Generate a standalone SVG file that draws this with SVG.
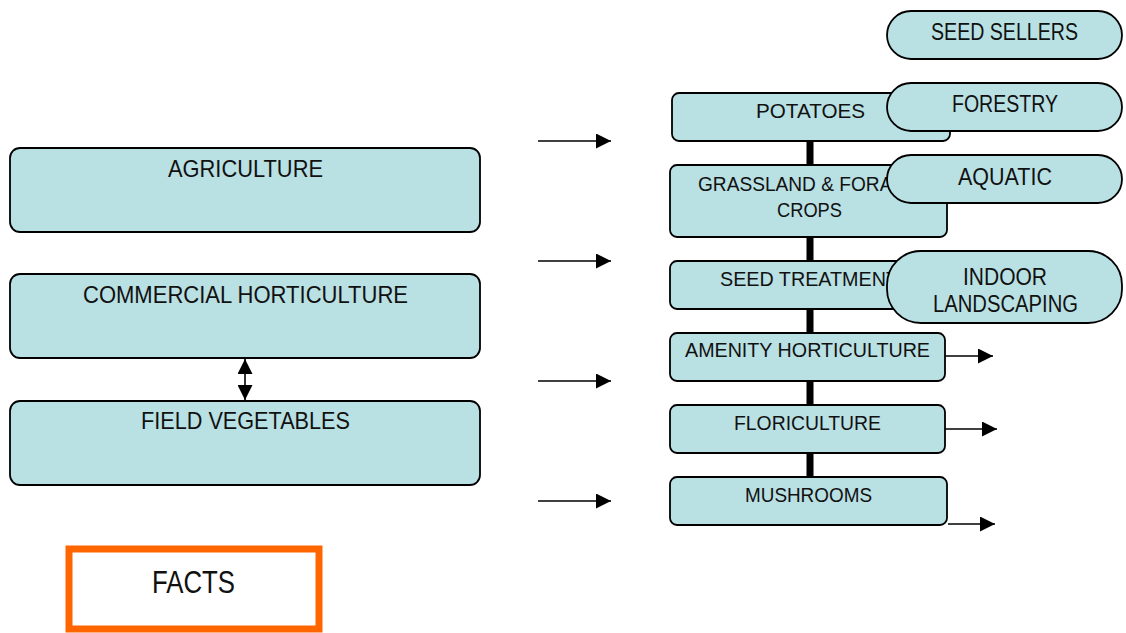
<svg xmlns="http://www.w3.org/2000/svg" width="1126" height="633" viewBox="0 0 1126 633">
<defs>
<marker id="ahs" viewBox="0 0 10 10" refX="10" refY="5" markerWidth="15" markerHeight="15" markerUnits="userSpaceOnUse" orient="auto-start-reverse"><path d="M0,0 L10,5 L0,10 z" fill="#000"/></marker>
<marker id="ahb" viewBox="0 0 10 10" refX="10" refY="5" markerWidth="15" markerHeight="15" markerUnits="userSpaceOnUse" orient="auto-start-reverse"><path d="M0,0 L10,5 L0,10 z" fill="#000"/></marker>
</defs>
<style>
.box{fill:#b9e0e3;stroke:#000;stroke-width:1.8}
.t{font-family:"Liberation Sans","DejaVu Sans",sans-serif;fill:#111;text-anchor:middle}
.l{font-size:24px}
.r{font-size:21px}
.p{font-size:23px}
.ar{stroke:#000;stroke-width:1.6;fill:none}
</style>
<rect width="1126" height="633" fill="#fff"/>
<g id="connectors">
<line x1="810" y1="141" x2="810" y2="480" stroke="#000" stroke-width="7"/>
<line class="ar" x1="538" y1="141" x2="611" y2="141" marker-end="url(#ahs)"/>
<line class="ar" x1="538" y1="261" x2="611" y2="261" marker-end="url(#ahs)"/>
<line class="ar" x1="538" y1="381" x2="611" y2="381" marker-end="url(#ahs)"/>
<line class="ar" x1="538" y1="501" x2="611" y2="501" marker-end="url(#ahs)"/>
<line class="ar" x1="245" y1="359" x2="245" y2="400" marker-start="url(#ahb)" marker-end="url(#ahb)"/>
<line class="ar" x1="945" y1="356" x2="993" y2="356" marker-end="url(#ahs)"/>
<line class="ar" x1="945" y1="429" x2="997" y2="429" marker-end="url(#ahs)"/>
<line class="ar" x1="948" y1="524" x2="995" y2="524" marker-end="url(#ahs)"/>
</g>
<g id="agriculture"><rect class="box" x="10" y="148" width="470" height="84" rx="10"/><text class="t l" x="245.5" y="177" textLength="155" lengthAdjust="spacingAndGlyphs">AGRICULTURE</text></g>
<g id="commercial"><rect class="box" x="10" y="274" width="470" height="84" rx="10"/><text class="t l" x="245.5" y="303" textLength="325" lengthAdjust="spacingAndGlyphs">COMMERCIAL HORTICULTURE</text></g>
<g id="field"><rect class="box" x="10" y="401" width="470" height="84" rx="10"/><text class="t l" x="245.5" y="429" textLength="209" lengthAdjust="spacingAndGlyphs">FIELD VEGETABLES</text></g>
<g id="potatoes"><rect class="box" x="672" y="93" width="278" height="48" rx="7"/><text class="t r" x="810.5" y="118" textLength="109" lengthAdjust="spacingAndGlyphs">POTATOES</text></g>
<g id="grassland"><rect class="box" x="670" y="165" width="277" height="72" rx="7"/><text class="t r" x="809" y="191" textLength="222" lengthAdjust="spacingAndGlyphs">GRASSLAND &amp; FORAGE</text><text class="t r" x="809.5" y="217" textLength="65" lengthAdjust="spacingAndGlyphs">CROPS</text></g>
<g id="seedtreatment"><rect class="box" x="670" y="261" width="277" height="48" rx="7"/><text class="t r" x="809" y="286" textLength="178" lengthAdjust="spacingAndGlyphs">SEED TREATMENT</text></g>
<g id="amenity"><rect class="box" x="670" y="333" width="275" height="48" rx="7"/><text class="t r" x="807.5" y="357" textLength="245" lengthAdjust="spacingAndGlyphs">AMENITY HORTICULTURE</text></g>
<g id="floriculture"><rect class="box" x="670" y="405" width="275" height="48" rx="7"/><text class="t r" x="807.5" y="430" textLength="147" lengthAdjust="spacingAndGlyphs">FLORICULTURE</text></g>
<g id="mushrooms"><rect class="box" x="670" y="477" width="277" height="48" rx="7"/><text class="t r" x="808.5" y="502" textLength="127" lengthAdjust="spacingAndGlyphs">MUSHROOMS</text></g>
<g id="seedsellers"><rect class="box" x="887" y="11" width="235" height="48" rx="24"/><text class="t p" x="1004.5" y="40" textLength="147" lengthAdjust="spacingAndGlyphs">SEED SELLERS</text></g>
<g id="forestry"><rect class="box" x="887" y="83" width="235" height="48" rx="24"/><text class="t p" x="1005" y="112" textLength="106" lengthAdjust="spacingAndGlyphs">FORESTRY</text></g>
<g id="aquatic"><rect class="box" x="887" y="155" width="235" height="48" rx="24"/><text class="t p" x="1005" y="185" textLength="94" lengthAdjust="spacingAndGlyphs">AQUATIC</text></g>
<g id="indoor"><rect class="box" x="887" y="251" width="235" height="72" rx="34"/><text class="t p" x="1005" y="285" textLength="84" lengthAdjust="spacingAndGlyphs">INDOOR</text><text class="t p" x="1005.5" y="312" textLength="145" lengthAdjust="spacingAndGlyphs">LANDSCAPING</text></g>
<g id="facts"><rect x="69" y="549" width="250" height="80" fill="#fff" stroke="#ff6600" stroke-width="7"/><text class="t" style="font-size:31px" x="193.5" y="593" textLength="83" lengthAdjust="spacingAndGlyphs">FACTS</text></g>
</svg>
